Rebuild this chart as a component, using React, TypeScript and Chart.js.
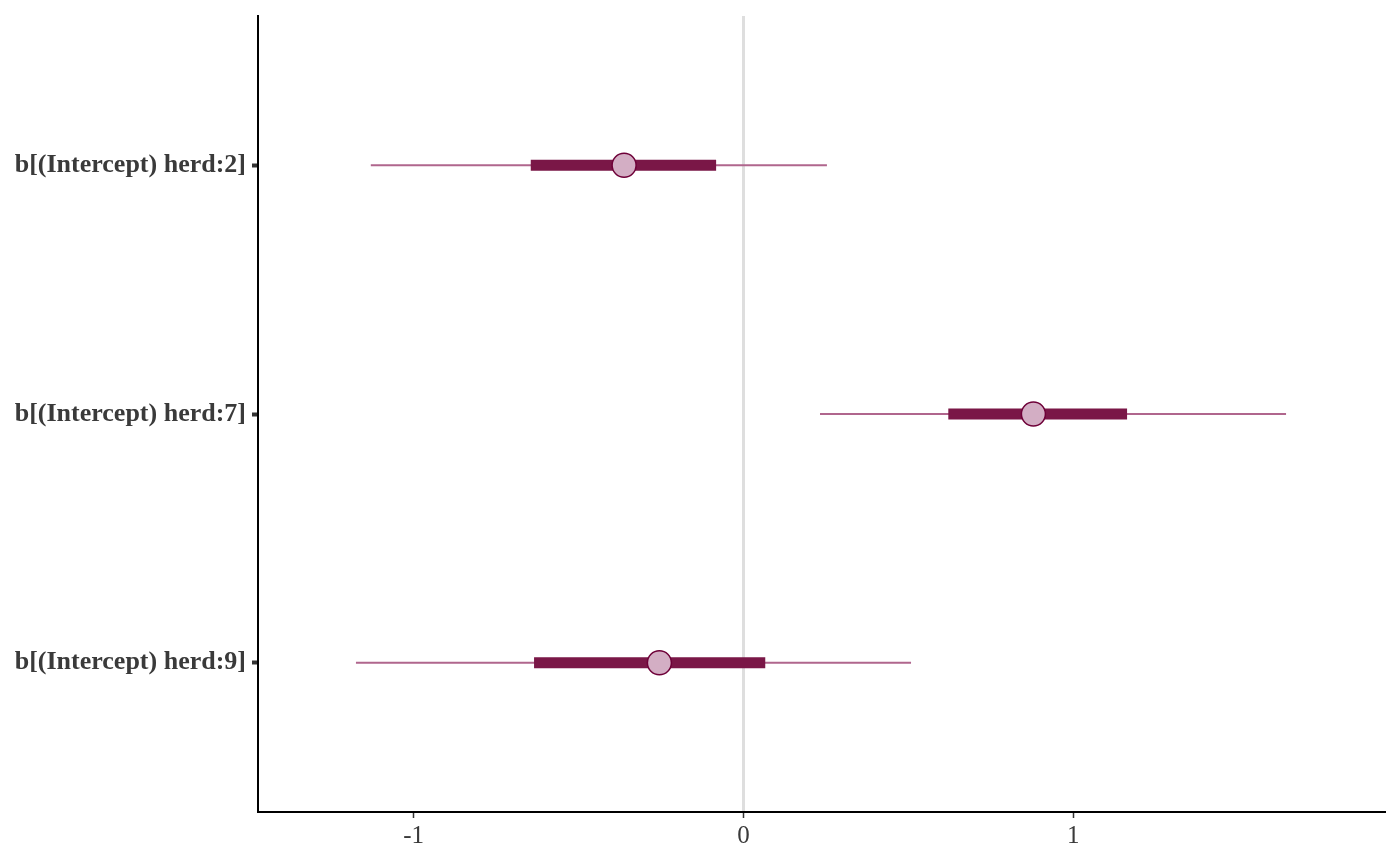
import React, { useEffect, useRef } from "react";
import { Chart, registerables } from "chart.js";

Chart.register(...registerables);

const params = ["b[(Intercept) herd:2]", "b[(Intercept) herd:7]", "b[(Intercept) herd:9]"];
const rowPos = [3, 2, 1];
const outerLow = [-1.13, 0.232, -1.175];
const outerHigh = [0.253, 1.645, 0.508];
const innerLow = [-0.645, 0.621, -0.635];
const innerHigh = [-0.083, 1.163, 0.066];
const medians = [-0.362, 0.879, -0.255];
const xTicks = [-1, 0, 1];

function segments(lo: number[], hi: number[]) {
  const pts: any[] = [];
  lo.forEach((l, i) => {
    pts.push({ x: l, y: rowPos[i] });
    pts.push({ x: hi[i], y: rowPos[i] });
    pts.push({ x: NaN, y: NaN });
  });
  return pts;
}

export default function App() {
  const ref = useRef<HTMLCanvasElement>(null);
  useEffect(() => {
    const chart = new Chart(ref.current!, {
      type: "scatter",
      data: {
        datasets: [
          {
            data: segments(outerLow, outerHigh),
            showLine: true,
            borderColor: "#b0668d",
            borderWidth: 2.2,
            pointRadius: 0,
            spanGaps: false,
            borderCapStyle: "butt",
            order: 3,
          } as any,
          {
            data: segments(innerLow, innerHigh),
            showLine: true,
            borderColor: "#7a1747",
            borderWidth: 11,
            pointRadius: 0,
            spanGaps: false,
            borderCapStyle: "butt",
            order: 2,
          } as any,
          {
            data: medians.map((m, i) => ({ x: m, y: rowPos[i] })),
            pointRadius: 12,
            pointBackgroundColor: "#d3aec4",
            pointBorderColor: "#6e0038",
            pointBorderWidth: 1.5,
            showLine: false,
            order: 1,
          } as any,
        ],
      },
      options: {
        animation: false,
        responsive: false,
        events: [],
        layout: { padding: { top: 16, right: 16, left: 0, bottom: 0 } },
        plugins: { legend: { display: false }, tooltip: { enabled: false } },
        scales: {
          x: {
            type: "linear",
            min: -1.472,
            max: 1.942,
            afterBuildTicks: (s: any) => {
              s.ticks = xTicks.map((v) => ({ value: v }));
            },
            afterFit: (s: any) => {
              s.height = 54;
              s.paddingLeft = 0;
              s.paddingRight = 0;
            },
            ticks: {
              font: { family: "Liberation Serif", size: 25 },
              color: "#3a3a3a",
              padding: 3,
              callback: (v: any) => String(v),
            },
            grid: {
              drawOnChartArea: true,
              color: (c: any) => (c.tick && c.tick.value === 0 ? "#dedede" : "rgba(0,0,0,0)"),
              lineWidth: 3,
              tickColor: "#333333",
              tickWidth: 1.5,
              tickLength: 6,
            },
            border: { display: true, color: "#000000", width: 2 },
          },
          y: {
            type: "linear",
            min: 0.4,
            max: 3.6,
            afterBuildTicks: (s: any) => {
              s.ticks = rowPos.map((v) => ({ value: v }));
            },
            afterFit: (s: any) => {
              s.width = 258;
              s.paddingTop = 0;
              s.paddingBottom = 0;
            },
            ticks: {
              font: { family: "Liberation Serif", size: 26, weight: "bold" },
              color: "#3a3a3a",
              padding: 6,
              callback: (v: any) => {
                const i = rowPos.indexOf(Number(v));
                return i >= 0 ? params[i] : "";
              },
            },
            grid: {
              drawOnChartArea: false,
              tickColor: "#333333",
              tickWidth: 4,
              tickLength: 6,
            },
            border: { display: true, color: "#000000", width: 2 },
          },
        },
      },
    });
    return () => chart.destroy();
  }, []);
  return (
    <div style={{ position: "absolute", left: 0, top: 0, width: 1400, height: 866, background: "#fff" }}>
      <canvas ref={ref} width={1400} height={866} />
    </div>
  );
}
